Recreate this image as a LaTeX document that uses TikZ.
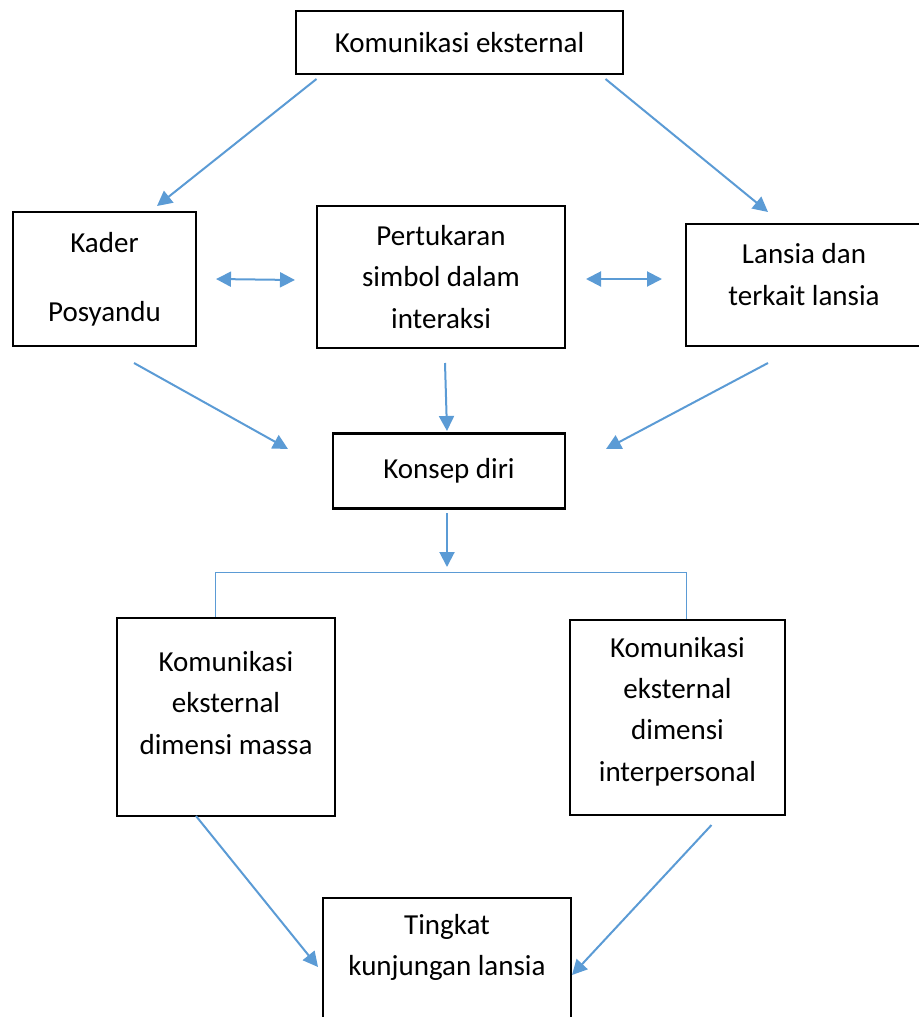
\documentclass[tikz,border=0pt]{standalone}
\usepackage{fontspec}
\setmainfont{Carlito}
\usetikzlibrary{arrows.meta}
\definecolor{arrowblue}{RGB}{91,155,213}

\begin{document}
\begin{tikzpicture}[
    x=0.5pt,
    y=-0.5pt,
    box/.style={
        rectangle,
        draw,
        line width=1.3pt,
        align=center,
        inner sep=0pt,
        font=\fontsize{14.5}{20.7}\selectfont
    },
    txt/.style={
        align=center,
        inner sep=0pt,
        font=\fontsize{14.5}{20.7}\selectfont
    },
    line/.style={
        draw=arrowblue, line width=1pt, -{Triangle[length=7.5pt,width=7.5pt]}
    },
    both/.style={
        draw=arrowblue, line width=1pt, {Triangle[length=7.5pt,width=7.5pt]}-{Triangle[length=7.5pt,width=7.5pt]}
    },
    branch/.style={
        draw=arrowblue, line width=0.5pt
    }
]
\useasboundingbox (0,0) rectangle (919,1017);

% Nodes
\node [box, minimum width=163.5pt, minimum height=31.5pt] (komext) at (459.5,42.5) {Komunikasi eksternal};
\node [box, minimum width=91.5pt, minimum height=67pt] (kader) at (104.5,279) {Kader\\[13.8pt]Posyandu};
\node [box, minimum width=124pt, minimum height=71pt] (pertukaran) at (441,277) {Pertukaran\\simbol dalam\\interaksi};
\node [box, minimum width=118pt, minimum height=61pt,
       label={[txt, yshift=5.25pt]center:Lansia dan\\terkait lansia}] (lansia) at (804,285) {};
\node [box, minimum width=116pt, minimum height=37.5pt] (konsep) at (449,471) {Konsep diri};
\node [box, minimum width=109pt, minimum height=99pt,
       label={[txt, yshift=7pt]center:Komunikasi\\eksternal\\dimensi massa}] (massa) at (226,717) {};
\node [box, minimum width=107.5pt, minimum height=97.5pt,
       label={[txt, yshift=3pt]center:Komunikasi\\eksternal\\dimensi\\interpersonal}] (interpersonal) at (677.5,717.5) {};
\node [box, minimum width=124pt, minimum height=62pt,
       label={[txt, yshift=6.25pt]center:Tingkat\\kunjungan lansia}] (tingkat) at (447,960) {};

% Arrow ends
\coordinate (a1) at (316.5,79);  \coordinate (b1) at (157,206);
\coordinate (a2) at (605.5,79);  \coordinate (b2) at (768,212);
\coordinate (a3) at (216,279);   \coordinate (b3) at (295,280);
\coordinate (a4) at (586,279);   \coordinate (b4) at (662,279);
\coordinate (a5) at (134,363);   \coordinate (b5) at (288,449);
\coordinate (a6) at (445,363);   \coordinate (b6) at (447,431);
\coordinate (a7) at (768,363);   \coordinate (b7) at (606,449);
\coordinate (a8) at (447,513);   \coordinate (b8) at (447,567);
\coordinate (a9) at (196,816);   \coordinate (b9) at (318,967);
\coordinate (a10) at (711.5,825); \coordinate (b10) at (572,975);
\coordinate (bl) at (215,572);   \coordinate (br) at (686,572);

% Arrows
\draw [line] (a1) -- (b1);
\draw [line] (a2) -- (b2);
\draw [both] (a3) -- (b3);
\draw [both] (a4) -- (b4);
\draw [line] (a5) -- (b5);
\draw [line] (a6) -- (b6);
\draw [line] (a7) -- (b7);
\draw [line] (a8) -- (b8);
\draw [branch] (bl |- massa.north) -- (bl) -- (br) -- (br |- interpersonal.north);
\draw [line] (a9) -- (b9);
\draw [line] (a10) -- (b10);

\end{tikzpicture}
\end{document}
